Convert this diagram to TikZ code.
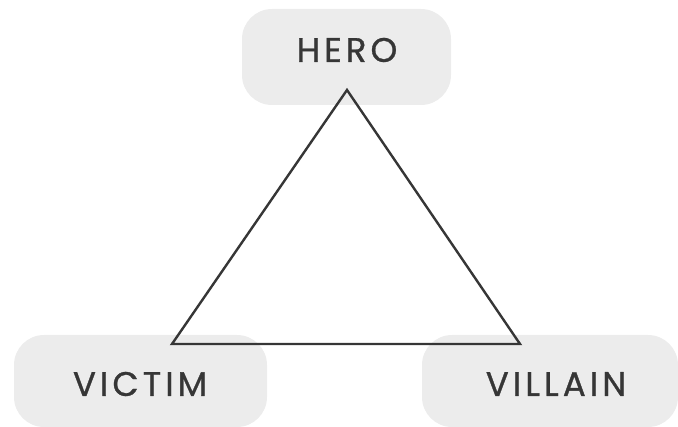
\documentclass[tikz,border=0pt]{standalone}
\usepackage{fontspec}
\setmainfont{Poppins}
\usepackage{tikz}
\usetikzlibrary{calc}
\definecolor{boxgray}{HTML}{ECECEC}
\definecolor{inkgray}{HTML}{363636}

\begin{document}
\begin{tikzpicture}[x=1pt,y=-1pt,
    rolebox/.style={fill=boxgray,rounded corners=30pt,inner sep=0pt},
    rolename/.style={text=inkgray,font=\addfontfeatures{LetterSpace=12,FakeBold=0.9}\fontsize{34}{40}\selectfont,inner sep=0pt}]
  \useasboundingbox (0,0) rectangle (678,427);
  % role boxes
  \node[rolebox,minimum width=209pt,minimum height=96pt] (herobox) at (346.5,57) {};
  \node[rolebox,minimum width=253pt,minimum height=92pt] (victimbox) at (14+126.5,381) {};
  \node[rolebox,minimum width=256pt,minimum height=92pt] (villainbox) at (422+128,381) {};
  % role names
  \node[rolename] (hero) at (347,50) {HERO};
  \node[rolename] (victim) at (140,384) {VICTIM};
  \node[rolename] (villain) at (556,384) {VILLAIN};
  % the triangle
  \coordinate (top) at (347,90);
  \coordinate (left) at (172,344);
  \coordinate (right) at (520,344);
  \draw[inkgray,line width=2.4pt,line join=miter] (top) -- (left) -- (right) -- cycle;
\end{tikzpicture}
\end{document}
